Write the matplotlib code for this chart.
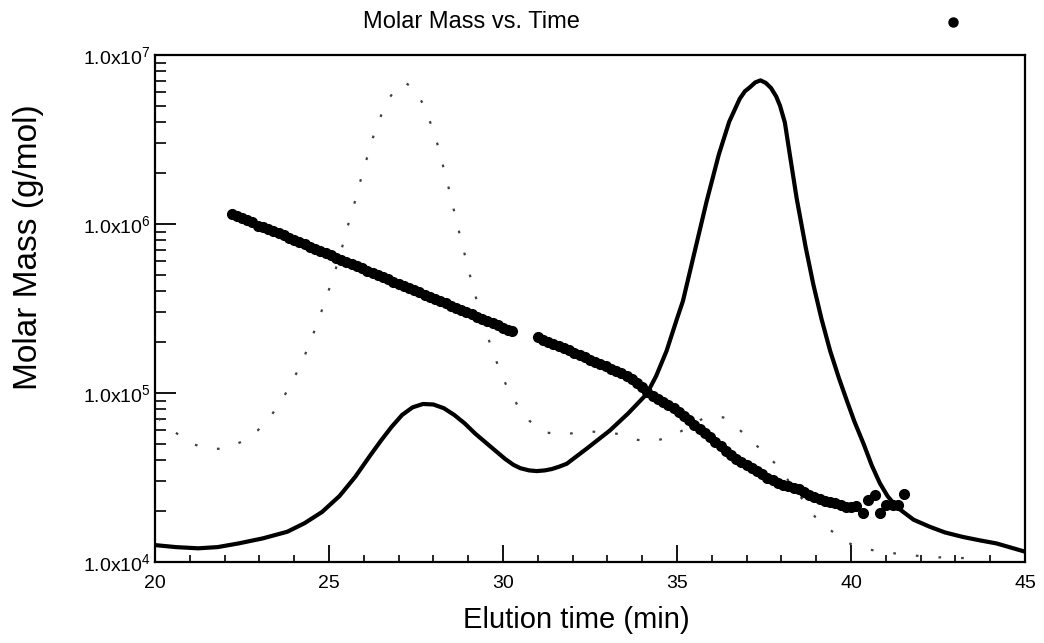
import matplotlib
matplotlib.use("Agg")
import matplotlib.pyplot as plt
from matplotlib.ticker import LogLocator, FixedLocator, MultipleLocator, NullFormatter

plt.rcParams['font.family'] = ['Liberation Sans', 'DejaVu Sans']
plt.rcParams['mathtext.fontset'] = 'custom'
plt.rcParams['mathtext.rm'] = 'Liberation Sans'
plt.rcParams['mathtext.default'] = 'regular'

# ---- data ----
title = "Molar Mass vs. Time"
x_label = "Elution time (min)"
y_label = "Molar Mass (g/mol)"
x_ticks = [20, 25, 30, 35, 40, 45]
y_ticks = [1e4, 1e5, 1e6, 1e7]
y_tick_labels = [r"1.0x10$^{4}$", r"1.0x10$^{5}$", r"1.0x10$^{6}$", r"1.0x10$^{7}$"]

# solid detector trace
solid_time = [20.0, 20.6, 21.24, 21.8, 22.4, 23.1, 23.8, 24.3, 24.8, 25.3, 25.75, 26.2,
              26.5, 26.8, 27.1, 27.4, 27.7, 28.0, 28.3, 28.6, 28.9, 29.2, 29.6, 30.06,
              30.3, 30.5, 30.75, 30.97, 31.2, 31.4, 31.6, 31.83, 32.4, 33.07, 33.6, 34.13,
              34.4, 34.7, 35.0, 35.17, 35.5, 35.85, 36.2, 36.5, 36.8, 36.95, 37.1, 37.25,
              37.4, 37.55, 37.7, 37.85, 37.96, 38.1, 38.25, 38.44, 38.7, 38.92, 39.15, 39.4,
              39.65, 39.88, 40.1, 40.36, 40.6, 40.83, 41.05, 41.31, 41.8, 42.27, 42.7, 43.2,
              43.7, 44.18, 44.6, 45.0]
solid_value = [12590, 12250, 12050, 12250, 12880, 13800, 15100, 16980, 19770, 24550, 31840, 43150,
               52480, 63100, 74130, 82220, 86100, 85510, 81280, 74130, 66070, 57540, 48980, 40740,
               37580, 35890, 34830, 34510, 34830, 35480, 36560, 38110, 46770, 59980, 75860, 98630,
               125900, 177400, 275400, 349900, 676100, 1358000, 2570000, 4027000, 5495000, 6095000, 6457000, 6887000,
               7079000, 6839000, 6383000, 5689000, 5012000, 3981000, 2512000, 1413000, 724400, 436500, 275400, 177800,
               123000, 90160, 67610, 50120, 37150, 29240, 24550, 21180, 17780, 16140, 14960, 14090,
               13430, 12880, 12160, 11510]

# dotted detector trace
dotted_time = [20.1, 20.52, 20.95, 21.48, 22.0, 22.53, 22.96, 23.35, 23.68, 23.97, 24.2, 24.43,
               24.62, 24.82, 25.0, 25.18, 25.34, 25.48, 25.63, 25.8, 25.94, 26.1, 26.26, 26.46,
               26.67, 26.99, 27.2, 27.45, 27.73, 27.93, 28.11, 28.25, 28.4, 28.52, 28.66, 28.79,
               28.93, 29.07, 29.21, 29.53, 29.72, 29.91, 30.15, 30.44, 30.75, 31.19, 31.73, 32.26,
               32.8, 33.31, 33.84, 34.37, 34.89, 35.35, 35.8, 36.33, 36.79, 37.21, 37.6, 37.99,
               38.3, 38.63, 38.97, 39.35, 39.83, 40.31, 40.88, 41.41, 41.98, 42.51, 43.04, 43.61]
dotted_value = [70790, 59980, 51170, 46770, 46770, 51880, 60260, 74130, 93330, 119400, 149600, 191900,
                245500, 319200, 410200, 530900, 682300, 877000, 1135000, 1479000, 1928000, 2495000, 3236000, 4207000,
                5333000, 6607000, 6839000, 6310000, 5012000, 3890000, 2999000, 2317000, 1778000, 1371000, 1059000, 807200,
                625200, 478600, 374100, 223900, 173800, 135200, 104700, 83180, 68710, 58610, 56490, 59160,
                58880, 57280, 52840, 51880, 55980, 63100, 71780, 71780, 60810, 50470, 42660, 35160,
                28180, 23170, 18490, 15810, 13180, 12050, 11510, 11140, 10840, 10660, 10570, 10520]

# molar mass points, first slice run
mm_time_a = [22.20, 22.35, 22.50, 22.65, 22.80, 22.95, 23.10, 23.25, 23.40, 23.55, 23.70, 23.85,
             24.00, 24.15, 24.30, 24.45, 24.60, 24.75, 24.90, 25.05, 25.20, 25.35, 25.50, 25.65,
             25.80, 25.95, 26.10, 26.25, 26.40, 26.55, 26.70, 26.85, 27.00, 27.15, 27.30, 27.45,
             27.60, 27.75, 27.90, 28.05, 28.20, 28.35, 28.50, 28.65, 28.80, 28.95, 29.10, 29.25,
             29.40, 29.55, 29.70, 29.85, 30.00, 30.15, 30.27]
mm_value_a = [1.148e6, 1.110e6, 1.090e6, 1.060e6, 1.030e6, 9.75e5, 9.65e5, 9.31e5, 9.10e5, 8.79e5, 8.55e5, 8.28e5,
              8.04e5, 7.80e5, 7.57e5, 7.35e5, 7.13e5, 6.92e5, 6.71e5, 6.52e5, 6.32e5, 6.14e5, 5.97e5, 5.79e5,
              5.62e5, 5.46e5, 5.30e5, 5.14e5, 4.99e5, 4.84e5, 4.70e5, 4.56e5, 4.43e5, 4.30e5, 4.17e5, 4.05e5,
              3.94e5, 3.82e5, 3.71e5, 3.60e5, 3.49e5, 3.39e5, 3.29e5, 3.19e5, 3.10e5, 3.01e5, 2.92e5, 2.83e5,
              2.75e5, 2.67e5, 2.59e5, 2.52e5, 2.44e5, 2.37e5, 2.32e5]

# molar mass points, second slice run
mm_time_b = [31.00, 31.15, 31.30, 31.45, 31.60, 31.75, 31.90, 32.05, 32.20, 32.35, 32.50, 32.65,
             32.80, 32.95, 33.10, 33.25, 33.40, 33.55, 33.70, 33.85, 34.00, 34.15, 34.30, 34.45,
             34.60, 34.75, 34.90, 35.05, 35.20, 35.35, 35.50, 35.65, 35.80, 35.95, 36.10, 36.25,
             36.40, 36.55, 36.70, 36.85, 37.00, 37.15, 37.30, 37.45, 37.60, 37.75, 37.90, 38.05,
             38.20, 38.35, 38.50, 38.65, 38.80, 38.95, 39.10, 39.25, 39.40, 39.55, 39.70, 39.85,
             40.00, 40.15]
mm_value_b = [2.133e5, 2.070e5, 2.009e5, 1.950e5, 1.892e5, 1.841e5, 1.791e5, 1.734e5, 1.683e5, 1.629e5, 1.578e5, 1.531e5,
              1.483e5, 1.439e5, 1.393e5, 1.352e5, 1.309e5, 1.265e5, 1.202e5, 1.140e5, 1.079e5, 1.019e5, 9.66e4, 9.16e4,
              8.81e4, 8.51e4, 8.18e4, 7.71e4, 7.28e4, 6.89e4, 6.50e4, 6.15e4, 5.79e4, 5.46e4, 5.13e4, 4.83e4,
              4.55e4, 4.29e4, 4.07e4, 3.91e4, 3.74e4, 3.59e4, 3.44e4, 3.30e4, 3.16e4, 3.05e4, 2.95e4, 2.87e4,
              2.80e4, 2.74e4, 2.69e4, 2.59e4, 2.49e4, 2.42e4, 2.37e4, 2.31e4, 2.26e4, 2.22e4, 2.17e4, 2.13e4,
              2.11e4, 2.15e4]

# scattered molar mass points at the tail
mm_time_c = [40.35, 40.50, 40.69, 40.83, 41.02, 41.21, 41.36, 41.52]
mm_value_c = [1.94e4, 2.32e4, 2.48e4, 1.94e4, 2.17e4, 2.17e4, 2.17e4, 2.54e4]

# ---- figure ----
fig = plt.figure(figsize=(10.44, 6.43), dpi=100)
ax = fig.add_axes([155 / 1044, 1 - 562 / 643, 870 / 1044, 507 / 643])

ax.plot(dotted_time, dotted_value, color='#404040', lw=1.6, linestyle=(0, (1.2, 9)),
        dash_capstyle='butt', zorder=2)
ax.plot(solid_time, solid_value, color='black', lw=3.0, solid_joinstyle='round',
        solid_capstyle='round', zorder=3)
for t, v in ((mm_time_a, mm_value_a), (mm_time_b, mm_value_b), (mm_time_c, mm_value_c)):
    ax.plot(t, v, linestyle='none', marker='o', markersize=7, color='black', zorder=4)

ax.set_yscale('log')
ax.set_xlim(20, 45)
ax.set_ylim(1e4, 1e7)

ax.xaxis.set_major_locator(FixedLocator(x_ticks))
ax.xaxis.set_minor_locator(MultipleLocator(1))
ax.set_xticklabels([str(t) for t in x_ticks])
ax.yaxis.set_major_locator(FixedLocator(y_ticks))
ax.yaxis.set_minor_locator(LogLocator(base=10, subs=range(2, 10)))
ax.yaxis.set_minor_formatter(NullFormatter())
ax.set_yticklabels(y_tick_labels)

ax.tick_params(axis='x', which='major', direction='in', length=12, width=1.3,
               labelsize=14, pad=9, top=False)
ax.tick_params(axis='x', which='minor', direction='in', length=5, width=1.2, top=False)
ax.tick_params(axis='y', which='major', direction='in', length=15, width=1.3,
               labelsize=14, pad=3, right=False)
ax.tick_params(axis='y', which='minor', direction='in', length=8, width=1.2, right=False)

for s in ax.spines.values():
    s.set_linewidth(1.6)

ax.set_xlabel(x_label, fontsize=21)
ax.xaxis.set_label_coords((576 - 155) / 870, -(620 - 562) / 507)
ax.xaxis.label.set_va('center')
ax.set_ylabel(y_label, fontsize=24)
ax.yaxis.set_label_coords(-(155 - 29) / 870, (562 - 247) / 507)
ax.yaxis.label.set_va('center')

fig.text(471 / 1044, 1 - 22 / 643, title, ha='center', va='center', fontsize=17)
fig.lines.append(plt.Line2D([953 / 1044], [1 - 22 / 643], transform=fig.transFigure,
                            marker='o', markersize=6.5, color='black', linestyle='none'))

fig.savefig('out.png', dpi=100, facecolor='white')
